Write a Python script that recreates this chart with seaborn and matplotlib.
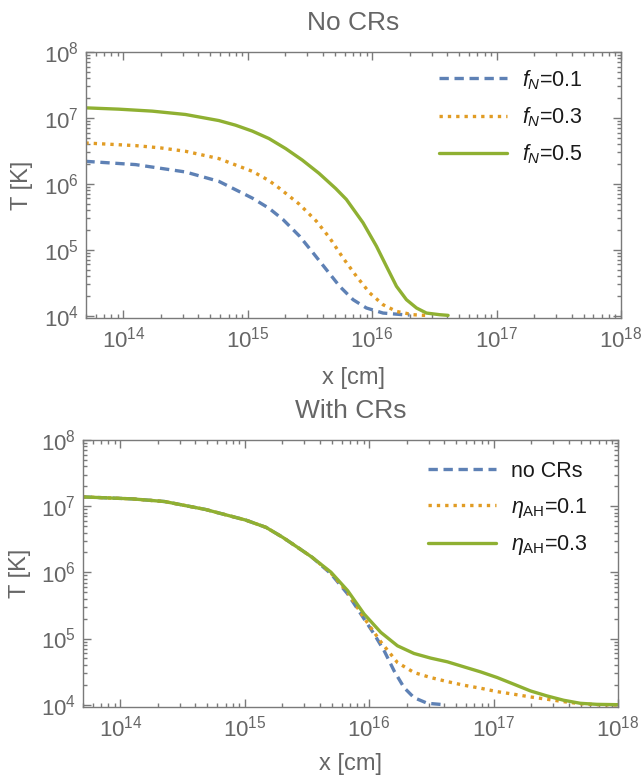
import numpy as np
import pandas as pd
import matplotlib
matplotlib.use("Agg")
import matplotlib.pyplot as plt
import matplotlib.ticker as mticker
import seaborn as sns

# ---------------- data (log10 values) ----------------
# Top panel: No CRs
top_labels = [r"$f_N$=0.1", r"$f_N$=0.3", r"$f_N$=0.5"]
top_lx_f01 = [13.694, 14.097, 14.499, 14.767, 15.036, 15.17, 15.282, 15.416, 15.524, 15.631,
              15.738, 15.846, 15.953, 16.087, 16.248, 16.30]
top_lT_f01 = [6.342, 6.292, 6.18, 6.038, 5.784, 5.63, 5.46, 5.206, 4.954, 4.70,
              4.446, 4.243, 4.117, 4.04, 4.015, 4.01]
top_lx_f03 = [13.694, 14.097, 14.3, 14.499, 14.767, 15.036, 15.17, 15.256, 15.416, 15.551,
              15.658, 15.765, 15.873, 15.98, 16.087, 16.195, 16.328, 16.463]
top_lT_f03 = [6.62, 6.58, 6.545, 6.494, 6.383, 6.19, 6.05, 5.93, 5.688, 5.434,
              5.18, 4.877, 4.598, 4.345, 4.167, 4.065, 4.015, 4.0]
top_lx_f05 = [13.694, 13.962, 14.231, 14.499, 14.767, 14.901, 15.036, 15.17, 15.304,
              15.438, 15.572, 15.706, 15.792, 15.926, 16.034, 16.114, 16.195, 16.275,
              16.356, 16.436, 16.543, 16.61]
top_lT_f05 = [7.153, 7.133, 7.103, 7.052, 6.96, 6.89, 6.80, 6.687, 6.535,
              6.36, 6.16, 5.93, 5.764, 5.41, 5.054, 4.75, 4.446, 4.243,
              4.117, 4.04, 4.015, 4.005]

# Bottom panel: With CRs
bot_labels = ["no CRs", r"$\eta_{\mathrm{AH}}$=0.1", r"$\eta_{\mathrm{AH}}$=0.3"]
bot_lx_none = [13.697, 14.097, 14.355, 14.684, 15.007, 15.17, 15.304, 15.438, 15.539,
               15.692, 15.826, 15.959, 16.039, 16.12, 16.2, 16.28, 16.36, 16.468, 16.6]
bot_lT_none = [7.14, 7.11, 7.07, 6.95, 6.79, 6.68, 6.53, 6.36, 6.23,
               5.979, 5.675, 5.296, 5.068, 4.815, 4.511, 4.258, 4.106, 4.021, 4.0]
bot_lx_eta = [13.697, 14.097, 14.355, 14.684, 15.007, 15.17, 15.304, 15.438, 15.539,
              15.692, 15.826, 15.959, 16.093, 16.227, 16.36, 16.494, 16.628, 16.761,
              16.895, 17.029, 17.162, 17.296, 17.43, 17.563, 17.697, 17.83, 18.0]
bot_lT_eta01 = [7.14, 7.11, 7.07, 6.95, 6.79, 6.68, 6.53, 6.36, 6.23,
                5.99, 5.70, 5.31, 4.95, 4.637, 4.486, 4.41, 4.349, 4.294,
                4.249, 4.197, 4.158, 4.117, 4.082, 4.046, 4.015, 4.0, 3.995]
bot_lT_eta03 = [7.14, 7.11, 7.07, 6.95, 6.79, 6.68, 6.53, 6.36, 6.23,
                6.003, 5.725, 5.37, 5.093, 4.89, 4.774, 4.704, 4.648, 4.572,
                4.496, 4.41, 4.31, 4.208, 4.132, 4.067, 4.021, 4.005, 4.0]

# ---------------- style ----------------
sns.set_theme(style="white")
plt.rcParams["font.family"] = ["Liberation Sans", "DejaVu Sans"]
plt.rcParams["mathtext.fontset"] = "custom"
plt.rcParams["mathtext.rm"] = "Liberation Sans"
plt.rcParams["mathtext.it"] = "Liberation Sans:italic"
plt.rcParams["mathtext.sf"] = "Liberation Sans"

BLUE, ORANGE, GREEN = "#5E81B5", "#E19C24", "#8FB032"
GRAY = "#666666"
FRAME = "#7a7a7a"
colors = [BLUE, ORANGE, GREEN]
dash_styles = [(2.8, 1.7), (1.0, 1.5), ""]


def make_df(xs, ys, labels):
    rows = []
    for lx, lT, lab in zip(xs, ys, labels):
        for a, b in zip(lx, lT):
            rows.append({"x": 10 ** a, "T": 10 ** b, "series": lab})
    return pd.DataFrame(rows)


def style_axes(ax):
    ax.set_xscale("log")
    ax.set_yscale("log")
    ax.set_xlim(5e13, 1e18)
    ax.set_ylim(10 ** 3.965, 1e8)
    ax.xaxis.set_major_locator(mticker.LogLocator(base=10, numticks=20))
    ax.yaxis.set_major_locator(mticker.LogLocator(base=10, numticks=20))
    ax.xaxis.set_minor_locator(mticker.LogLocator(base=10, subs=np.arange(2, 10), numticks=20))
    ax.yaxis.set_minor_locator(mticker.LogLocator(base=10, subs=np.arange(2, 10), numticks=20))
    ax.xaxis.set_minor_formatter(mticker.NullFormatter())
    ax.yaxis.set_minor_formatter(mticker.NullFormatter())
    ax.tick_params(which="both", direction="in", top=True, right=True,
                   bottom=True, left=True,
                   color=FRAME, labelcolor=GRAY, width=1.0)
    ax.tick_params(which="major", length=5.5, labelsize=16)
    ax.tick_params(which="minor", length=3)
    ax.tick_params(axis="x", which="major", pad=6)
    ax.tick_params(axis="y", which="major", pad=5)
    for s in ax.spines.values():
        s.set_color(FRAME)
        s.set_linewidth(1.0)
    ax.set_xlabel("")
    ax.set_ylabel("")


def draw(ax, df, labels):
    sns.lineplot(data=df, x="x", y="T", hue="series", style="series",
                 hue_order=labels, style_order=labels,
                 palette=dict(zip(labels, colors)),
                 dashes=dict(zip(labels, dash_styles)),
                 estimator=None, sort=False, legend=False,
                 linewidth=2.4, ax=ax)
    handles = []
    for c in colors:
        for ln in ax.lines:
            if matplotlib.colors.to_hex(ln.get_color()).lower() == c.lower():
                handles.append(ln)
                break
    return handles


fig = plt.figure(figsize=(6.42, 7.75), dpi=100)
W, H = 642.0, 775.0
ax1 = fig.add_axes([86 / W, 1 - 318 / H, (621 - 86) / W, (318 - 52) / H])
ax2 = fig.add_axes([83 / W, 1 - 707 / H, (618 - 83) / W, (707 - 440) / H])

df_top = make_df([top_lx_f01, top_lx_f03, top_lx_f05],
                 [top_lT_f01, top_lT_f03, top_lT_f05], top_labels)
df_bot = make_df([bot_lx_none, bot_lx_eta, bot_lx_eta],
                 [bot_lT_none, bot_lT_eta01, bot_lT_eta03], bot_labels)

h1 = draw(ax1, df_top, top_labels)
h2 = draw(ax2, df_bot, bot_labels)
style_axes(ax1)
style_axes(ax2)

leg_kw = dict(frameon=False, loc="upper left", fontsize=15.5, borderpad=0,
              borderaxespad=0, handlelength=3.15, handletextpad=0.7,
              labelspacing=0.63)
leg1 = fig.legend(h1, top_labels, bbox_to_anchor=(439 / W, 1 - 68 / H), **leg_kw)
leg2 = fig.legend(h2, bot_labels, bbox_to_anchor=(428 / W, 1 - 461 / H), **leg_kw)
for leg in (leg1, leg2):
    for t in leg.get_texts():
        t.set_color("#1a1a1a")

# titles and axis labels
fig.text(353.5 / W, 1 - 29.5 / H, "No CRs", ha="center", va="baseline",
         fontsize=19, color=GRAY)
fig.text(350.5 / W, 1 - 418.5 / H, "With CRs", ha="center", va="baseline",
         fontsize=19, color=GRAY)
fig.text(353.5 / W, 1 - 384 / H, "x [cm]", ha="center", va="baseline",
         fontsize=17, color=GRAY)
fig.text(350.5 / W, 1 - 770 / H, "x [cm]", ha="center", va="baseline",
         fontsize=17, color=GRAY)
fig.text(22 / W, 1 - 185 / H, "T [K]", ha="center", va="center",
         fontsize=17, color=GRAY, rotation=90)
fig.text(20 / W, 1 - 573.5 / H, "T [K]", ha="center", va="center",
         fontsize=17, color=GRAY, rotation=90)

fig.savefig("out.png", dpi=100)
